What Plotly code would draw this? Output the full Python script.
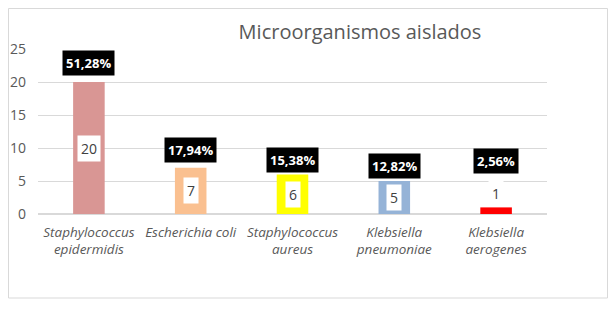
import plotly.graph_objects as go

categories = ["Staphylococcus<br>epidermidis", "Escherichia coli", "Staphylococcus<br>aureus",
              "Klebsiella<br>pneumoniae", "Klebsiella<br>aerogenes"]
counts = [20, 7, 6, 5, 1]
percent_labels = ["51,28%", "17,94%", "15,38%", "12,82%", "2,56%"]
bar_colors = ["#D99694", "#FAC090", "#FFFF00", "#95B3D7", "#FF0000"]
y_ticks = [0, 5, 10, 15, 20, 25]

# pixel shifts for labels (styling)
pct_shift = [19, 18, 14, 15, 46]
val_shift = [0, 0, 0, 0, 17]

FONT = "Open Sans"
GREY = "#595959"

W, H = 600, 296
L, R, T, B = 30, 61, 41, 90
PW, PH = W - L - R, H - T - B

fig = go.Figure()
fig.add_trace(go.Bar(
    x=categories, y=counts, marker=dict(color=bar_colors, line=dict(width=0)),
    width=0.31, hoverinfo="skip",
))

for i, (c, v, p) in enumerate(zip(categories, counts, percent_labels)):
    fig.add_annotation(x=c, y=v / 2, yshift=val_shift[i], text=str(v), showarrow=False,
                       bgcolor="white", borderpad=3,
                       font=dict(family=FONT, size=14, color="#404040"))
    fig.add_annotation(x=c, y=v, yshift=pct_shift[i], text="<b>" + p + "</b>", showarrow=False,
                       bgcolor="black", borderpad=3,
                       font=dict(family=FONT, size=13, color="white"))

fig.add_shape(type="rect", xref="paper", yref="paper",
              x0=(0.5 - L) / PW, x1=(W - 0.5 - L) / PW,
              y0=-(290 - (H - B)) / PH, y1=((H - B) - 0.5) / PH,
              line=dict(color="#D9D9D9", width=1), fillcolor="rgba(0,0,0,0)", layer="below")

fig.update_layout(
    width=W, height=H,
    margin=dict(l=L, r=R, t=T, b=B),
    paper_bgcolor="white", plot_bgcolor="white",
    showlegend=False,
    title=dict(text="Microorganismos aislados", x=352 / W, xanchor="center",
               y=1 - 24 / H, yanchor="middle",
               font=dict(family=FONT, size=20, color=GREY)),
    bargap=0.69,
)
fig.update_xaxes(showgrid=False, showline=False, ticks="", ticklabelstandoff=8,
                 automargin=False,
                 tickfont=dict(family=FONT, size=13.5, color=GREY, style="italic"))
fig.update_yaxes(range=[0, 25], tickvals=y_ticks, showgrid=True, gridcolor="#D9D9D9",
                 zeroline=True, zerolinecolor="#D9D9D9", showline=False,
                 ticklabelstandoff=11, automargin=False,
                 tickfont=dict(family=FONT, size=14, color=GREY))

fig.write_html("out.html")
